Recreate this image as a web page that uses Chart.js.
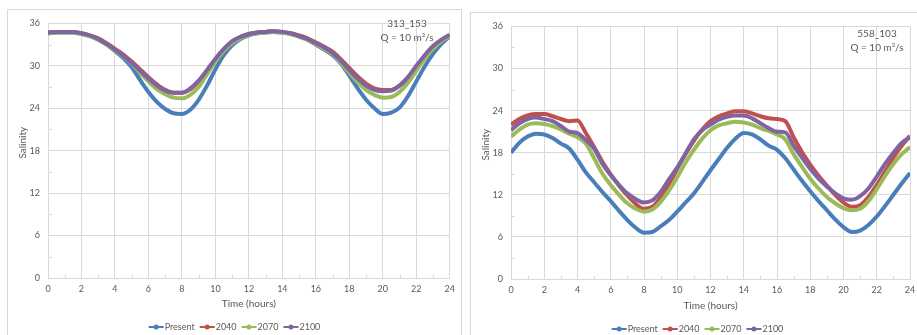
<!DOCTYPE html>
<html>
<head>
<meta charset="utf-8">
<script src="https://cdn.jsdelivr.net/npm/chart.js@4.4.1/dist/chart.umd.min.js"></script>
<style>
  html, body { margin: 0; padding: 0; background: #fff; width: 917px; height: 335px; overflow: hidden; }
  body { position: relative; }
  .panel { position: absolute; border: 1px solid #d9d9d9; background: #fff; }
  #p1 { left: 7px; top: 9px; width: 453px; height: 340px; }
  #p2 { left: 470px; top: 12px; width: 453px; height: 340px; }
  canvas { display: block; }
</style>
</head>
<body>
<div class="panel" id="p1"><canvas id="c1" width="453" height="330"></canvas></div>
<div class="panel" id="p2"><canvas id="c2" width="453" height="330"></canvas></div>
<script>
// Time of day (hours), sampled every half hour
const hours = [0, 0.5, 1, 1.5, 2, 2.5, 3, 3.5, 4, 4.5, 5, 5.5, 6, 6.5, 7, 7.5, 8, 8.5, 9, 9.5,
  10, 10.5, 11, 11.5, 12, 12.5, 13, 13.5, 14, 14.5, 15, 15.5, 16, 16.5, 17, 17.5, 18, 18.5, 19, 19.5,
  20, 20.5, 21, 21.5, 22, 22.5, 23, 23.5, 24];

const seriesNames = ['Present', '2040', '2070', '2100'];
const seriesColors = ['#4a7ebb', '#c0504d', '#9bbb59', '#8064a2'];

const xTicks = [0, 2, 4, 6, 8, 10, 12, 14, 16, 18, 20, 22, 24];
const yTicks = [0, 6, 12, 18, 24, 30, 36];

// Station 313_153, Q = 10 m3/s
const st313Present = [34.6, 34.7, 34.7, 34.7, 34.5, 34.2, 33.7, 33.0, 32.1, 31.1, 29.8, 28.0, 26.3, 24.9, 23.9, 23.3, 23.2, 23.8, 25.2, 27.2,
  29.5, 31.5, 32.9, 33.8, 34.3, 34.6, 34.7, 34.8, 34.7, 34.5, 34.2, 33.7, 33.0, 32.3, 31.5, 30.3, 28.6, 26.8, 25.2, 24.0,
  23.2, 23.4, 24.1, 25.7, 27.8, 29.9, 31.7, 33.1, 34.2];
const st313Y2040 = [34.7, 34.8, 34.8, 34.8, 34.6, 34.3, 33.9, 33.2, 32.4, 31.6, 30.6, 29.5, 28.4, 27.4, 26.6, 26.2, 26.2, 26.7, 27.8, 29.3,
  30.9, 32.3, 33.4, 34.1, 34.5, 34.7, 34.8, 34.9, 34.8, 34.6, 34.3, 33.9, 33.3, 32.7, 32.0, 30.9, 29.7, 28.5, 27.5, 26.8,
  26.6, 26.6, 27.2, 28.3, 29.8, 31.3, 32.6, 33.6, 34.3];
const st313Y2070 = [34.6, 34.7, 34.7, 34.7, 34.5, 34.2, 33.7, 33.0, 32.2, 31.3, 30.3, 29.0, 27.8, 26.7, 26.0, 25.5, 25.4, 25.9, 27.0, 28.8,
  30.6, 32.1, 33.2, 33.9, 34.4, 34.6, 34.7, 34.8, 34.7, 34.5, 34.1, 33.7, 33.1, 32.4, 31.6, 30.4, 29.0, 27.7, 26.6, 25.9,
  25.5, 25.6, 26.3, 27.6, 29.3, 31.0, 32.4, 33.5, 34.2];
const st313Y2100 = [34.7, 34.8, 34.8, 34.8, 34.6, 34.3, 33.8, 33.1, 32.3, 31.4, 30.4, 29.3, 28.2, 27.2, 26.5, 26.2, 26.2, 26.8, 27.9, 29.4,
  31.0, 32.4, 33.5, 34.1, 34.5, 34.7, 34.8, 34.9, 34.8, 34.6, 34.2, 33.8, 33.2, 32.6, 31.8, 30.7, 29.4, 28.2, 27.2, 26.6,
  26.4, 26.5, 27.2, 28.4, 30.0, 31.5, 32.8, 33.7, 34.4];

// Station 558_103, Q = 10 m3/s
const st558Present = [18.0, 19.4, 20.3, 20.7, 20.6, 20.1, 19.3, 18.6, 17.0, 15.2, 13.8, 12.4, 11.1, 9.7, 8.4, 7.3, 6.6, 6.7, 7.5, 8.4,
  9.6, 10.9, 12.2, 13.8, 15.5, 17.1, 18.7, 20.0, 20.8, 20.6, 19.9, 19.0, 18.4, 17.2, 15.6, 14.0, 12.5, 11.1, 9.8, 8.5,
  7.4, 6.7, 6.9, 7.7, 8.9, 10.4, 12.0, 13.6, 15.1];
const st558Y2040 = [22.0, 22.8, 23.3, 23.5, 23.5, 23.2, 22.8, 22.5, 22.6, 20.8, 18.8, 16.7, 14.9, 13.3, 11.9, 10.7, 10.0, 10.3, 11.6, 13.5,
  15.7, 17.8, 19.7, 21.3, 22.5, 23.2, 23.6, 23.9, 23.9, 23.6, 23.2, 22.9, 22.8, 22.5, 20.2, 18.1, 16.3, 14.7, 13.3, 12.0,
  10.9, 10.3, 10.5, 11.7, 13.4, 15.3, 17.3, 19.0, 20.4];
const st558Y2070 = [20.3, 21.3, 22.0, 22.2, 22.1, 21.8, 21.3, 20.7, 20.2, 19.3, 17.2, 15.0, 13.4, 12.0, 10.8, 10.0, 9.6, 9.9, 11.0, 12.6,
  14.5, 16.6, 18.4, 20.0, 21.2, 21.9, 22.2, 22.4, 22.3, 22.0, 21.5, 21.1, 20.6, 19.9, 17.8, 16.0, 14.3, 12.9, 11.7, 10.8,
  10.1, 9.8, 10.0, 11.1, 12.8, 14.7, 16.4, 17.8, 18.8];
const st558Y2100 = [21.2, 22.2, 22.8, 23.0, 22.8, 22.5, 21.8, 21.0, 20.8, 19.8, 18.6, 16.4, 14.8, 13.4, 12.2, 11.4, 10.9, 11.2, 12.4, 14.2,
  15.9, 17.9, 19.9, 21.2, 22.0, 22.7, 23.1, 23.3, 23.3, 22.9, 22.2, 21.5, 21.0, 20.9, 19.0, 17.3, 15.7, 14.3, 13.2, 12.2,
  11.5, 11.3, 11.8, 12.9, 14.6, 16.4, 18.0, 19.4, 20.2];

const TEXT = '#595959';
const GRID = '#d9d9d9';
const FONT = 'Lato, "Open Sans", sans-serif';

// Draws minor tick marks, the station note, the y-axis title and an Excel-style legend
const extras = {
  id: 'extras',
  beforeDatasetsDraw(chart) {
    const { ctx, chartArea: a, scales: { x, y } } = chart;
    ctx.save();
    ctx.strokeStyle = GRID;
    ctx.lineWidth = 1;
    ctx.beginPath();
    for (let h = 1; h < 24; h += 2) {
      const px = Math.round(x.getPixelForValue(h)) + 0.5;
      ctx.moveTo(px, a.bottom - 3); ctx.lineTo(px, a.bottom);
    }
    for (let v = 3; v < 36; v += 6) {
      const py = Math.round(y.getPixelForValue(v)) + 0.5;
      ctx.moveTo(a.left, py); ctx.lineTo(a.left + 4, py);
    }
    ctx.stroke();
    ctx.restore();
  },
  afterDraw(chart, args, opts) {
    const { ctx, chartArea: a, width } = chart;
    ctx.save();
    ctx.fillStyle = TEXT;
    ctx.font = '10px ' + FONT;
    ctx.textAlign = 'center';
    ctx.textBaseline = 'middle';
    opts.note.forEach((line, i) => ctx.fillText(line, opts.noteX, opts.noteY + i * 14));

    // y-axis title
    ctx.save();
    ctx.translate(opts.yTitleX, (a.top + a.bottom) / 2 - 8);
    ctx.rotate(-Math.PI / 2);
    ctx.fillText('Salinity', 0, 0);
    ctx.restore();

    // legend
    ctx.font = '9px ' + FONT;
    ctx.textAlign = 'left';
    const ds = chart.data.datasets;
    const lineLen = 15, gap = 5;
    const widths = ds.map(d => lineLen + 1 + ctx.measureText(d.label).width);
    const total = widths.reduce((s, w) => s + w, 0) + gap * (ds.length - 1);
    let cx = width / 2 - total / 2;
    const ly = opts.legendY;
    ds.forEach((d, i) => {
      ctx.strokeStyle = d.borderColor;
      ctx.fillStyle = d.borderColor;
      ctx.lineWidth = 2;
      ctx.beginPath();
      ctx.moveTo(cx, ly); ctx.lineTo(cx + lineLen, ly);
      ctx.stroke();
      ctx.beginPath();
      ctx.arc(cx + lineLen / 2, ly, 2.5, 0, Math.PI * 2);
      ctx.fill();
      ctx.fillStyle = TEXT;
      ctx.fillText(d.label, cx + lineLen + 1, ly + 0.5);
      cx += widths[i] + gap;
    });
    ctx.restore();
  }
};

function makeChart(id, values, note, g) {
  const datasets = seriesNames.map((name, k) => ({
    label: name,
    data: hours.map((h, i) => ({ x: h, y: values[k][i] })),
    borderColor: seriesColors[k],
    backgroundColor: seriesColors[k],
    borderWidth: 4,
    pointRadius: 0,
    cubicInterpolationMode: 'monotone',
    fill: false,
    order: seriesNames.length - k
  }));
  return new Chart(document.getElementById(id), {
    type: 'line',
    data: { datasets },
    options: {
      responsive: false,
      animation: false,
      devicePixelRatio: 1,
      layout: { padding: { top: g.top, right: g.right, left: 0, bottom: 0 } },
      plugins: {
        legend: { display: false },
        tooltip: { enabled: false },
        extras: { note, noteX: g.noteX, noteY: g.noteY, legendY: g.legendY, yTitleX: g.yTitleX }
      },
      scales: {
        x: {
          type: 'linear', min: 0, max: 24,
          afterBuildTicks(s) { s.ticks = xTicks.map(v => ({ value: v })); },
          afterFit(s) { s.height = g.xh; },
          ticks: { color: TEXT, padding: 6, font: { family: FONT, size: 9 } },
          grid: { color: GRID, drawTicks: false },
          border: { color: GRID },
          title: { display: true, text: 'Time (hours)', color: TEXT, font: { family: FONT, size: 10 },
                   padding: { top: 0, bottom: g.xTitlePad } }
        },
        y: {
          min: 0, max: 36,
          afterBuildTicks(s) { s.ticks = yTicks.map(v => ({ value: v })); },
          afterFit(s) { s.width = 40; },
          ticks: { color: TEXT, padding: 8, font: { family: FONT, size: 9 } },
          grid: { color: GRID, drawTicks: false },
          border: { color: GRID }
        }
      }
    },
    plugins: [extras]
  });
}

function draw() {
  makeChart('c1', [st313Present, st313Y2040, st313Y2070, st313Y2100], ['313_153', 'Q = 10 m\u00B3/s'],
    { top: 9, right: 11, xh: 62, xTitlePad: 30, noteX: 399, noteY: 14, legendY: 317, yTitleX: 15 });
  makeChart('c2', [st558Present, st558Y2040, st558Y2070, st558Y2100], ['558_103', 'Q = 10 m\u00B3/s'],
    { top: 8, right: 14, xh: 64, xTitlePad: 31, noteX: 406, noteY: 21, legendY: 316, yTitleX: 15 });
}

if (document.fonts && document.fonts.load) {
  Promise.all([document.fonts.load('10px Lato'), document.fonts.load('9px Lato')]).then(draw, draw);
} else {
  draw();
}
</script>
</body>
</html>
